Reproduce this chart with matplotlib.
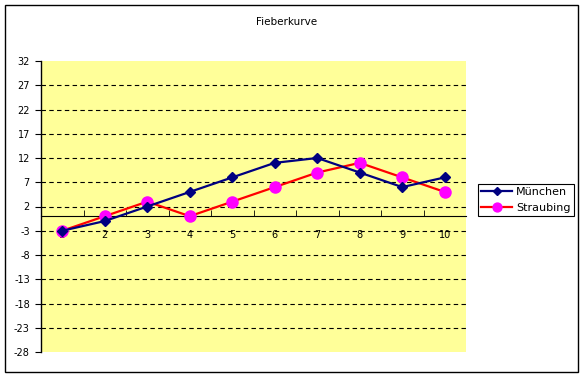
import matplotlib.pyplot as plt
from matplotlib.patches import Rectangle

plt.rcParams['font.family'] = ['DejaVu Sans']

# data
tage = [1, 2, 3, 4, 5, 6, 7, 8, 9, 10]
muenchen = [-3, -1, 2, 5, 8, 11, 12, 9, 6, 8]
straubing = [-3, 0, 3, 0, 3, 6, 9, 11, 8, 5]
y_ticks = list(range(-28, 33, 5))

fig = plt.figure(figsize=(5.84, 3.77), dpi=100)
fig.patches.append(Rectangle((5 / 584, 5 / 377), 573 / 584, 367 / 377,
                             transform=fig.transFigure, fill=False,
                             edgecolor='black', linewidth=1))

ax = fig.add_axes([41 / 584, 25 / 377, 425 / 584, 291 / 377])
ax.set_facecolor('#FFFF99')

ax.plot(tage, muenchen, color='#000080', marker='D', markersize=5.5,
        linewidth=1.6, label='München', zorder=4)
ax.plot(tage, straubing, color='#FF0000', marker='o', markersize=8,
        markerfacecolor='#FF00FF', markeredgecolor='#FF00FF',
        linewidth=1.6, label='Straubing', zorder=3)

ax.set_xlim(0.5, 10.5)
ax.set_ylim(-28, 32)
ax.set_yticks(y_ticks)
ax.set_yticklabels([str(v) for v in y_ticks], fontsize=7)

# dashed gridlines
for v in y_ticks[1:-1]:
    ax.axhline(v, color='black', linestyle=(0, (4, 3)), linewidth=0.8, zorder=1)

# category axis through zero
ax.spines['top'].set_visible(False)
ax.spines['right'].set_visible(False)
ax.spines['bottom'].set_position(('data', 0))
ax.spines['left'].set_linewidth(1)
ax.set_xticks(tage)
ax.set_xticklabels([str(t) for t in tage], fontsize=7)
ax.tick_params(axis='x', length=0, pad=10)
ax.set_xticks([t + 0.5 for t in tage[:-1]], minor=True)
ax.tick_params(axis='x', which='minor', length=4, direction='in')
ax.tick_params(axis='y', length=4, direction='out', pad=4)

fig.text(0.49, 0.942, 'Fieberkurve', ha='center', va='center', fontsize=7.5)

leg = fig.legend(loc='upper left', bbox_to_anchor=(478 / 584, 1 - 184 / 377),
                 fontsize=8, fancybox=False, edgecolor='black', framealpha=1,
                 borderpad=0.3, handlelength=2.8, labelspacing=0.5,
                 handletextpad=0.3, borderaxespad=0, markerscale=0.8)
leg.get_frame().set_linewidth(0.8)

fig.savefig('out.png', dpi=100)
